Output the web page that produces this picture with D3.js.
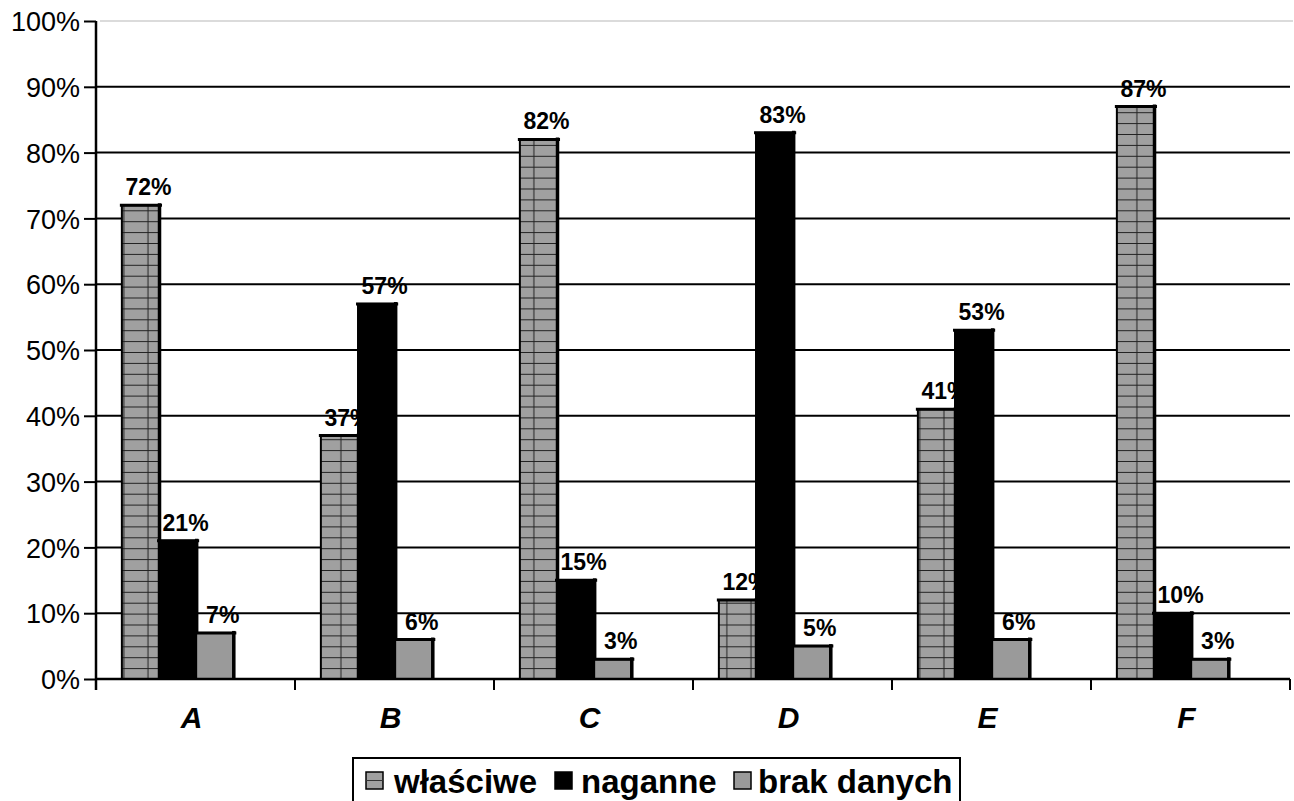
<!DOCTYPE html>
<html><head><meta charset="utf-8">
<script src="https://cdn.jsdelivr.net/npm/d3@7"></script>
<style>body{margin:0;background:#fff}svg{display:block;font-family:"Liberation Sans",Arial,sans-serif}</style>
</head><body>
<script>
const categories = ["A","B","C","D","E","F"];
const seriesNames = ["właściwe","naganne","brak danych"];
const wlasciwe = [72,37,82,12,41,87];
const naganne = [21,57,15,83,53,10];
const brakDanych = [7,6,3,5,6,3];
const yTicks = [0,10,20,30,40,50,60,70,80,90,100];

const values = [wlasciwe, naganne, brakDanych];
const W = 1294, H = 801;
const svg = d3.select("body").append("svg").attr("width", W).attr("height", H);

const defs = svg.append("defs");
const pat = defs.append("pattern").attr("id","grid").attr("patternUnits","userSpaceOnUse")
  .attr("width",24.12).attr("height",10.9).attr("x",148-12).attr("y",679);
pat.append("rect").attr("width",24.12).attr("height",10.9).attr("fill","#a0a0a0");
pat.append("line").attr("x1",12).attr("x2",12).attr("y1",0).attr("y2",10.9).attr("stroke","#222").attr("stroke-width",1);
pat.append("line").attr("x1",0).attr("x2",24.12).attr("y1",0.5).attr("y2",0.5).attr("stroke","#222").attr("stroke-width",1);

const fills = ["url(#grid)", "#000", "#9a9a9a"];

const x0 = d3.scaleBand().domain(categories).range([96, 1290]);
const bw = x0.bandwidth();
const x1 = d3.scaleBand().domain(seriesNames).range([0.13*bw, 0.69*bw]);
const y = d3.scaleLinear().domain([0,100]).range([679, 21]);

// gridlines
svg.append("g").selectAll("line").data(yTicks.filter(t=>t>0 && t<100)).join("line")
  .attr("x1",96).attr("x2",1290).attr("y1",d=>y(d)).attr("y2",d=>y(d))
  .attr("stroke","#000").attr("stroke-width",2);
svg.append("line").attr("x1",100).attr("x2",1293).attr("y1",y(100)).attr("y2",y(100))
  .attr("stroke","#cfcfcf").attr("stroke-width",1.5);

// y axis
const yAxis = d3.axisLeft(y).tickValues(yTicks).tickFormat(d=>d+"%").tickSize(12).tickPadding(4);
const gy = svg.append("g").attr("transform","translate(96,0)").call(yAxis);
gy.attr("font-size",null).attr("font-family",null);
gy.select(".domain").attr("stroke","#000").attr("stroke-width",2.5).attr("d","M0,21V690");
gy.selectAll(".tick line").attr("stroke","#000").attr("stroke-width",2);
gy.selectAll(".tick text").style("font-size","27px").attr("fill","#000").attr("dy","0.36em");

// bars
categories.forEach((c,ci)=>{
  seriesNames.forEach((s,si)=>{
    const v = values[si][ci];
    const bx = x0(c)+x1(s), w = x1.bandwidth(), top = y(v);
    const g = svg.append("g");
    g.append("rect").attr("x",bx).attr("y",top).attr("width",w).attr("height",y(0)-top)
      .attr("fill",fills[si]).attr("stroke","#000").attr("stroke-width",2);
    g.append("line").attr("x1",bx-2).attr("x2",bx+w+3).attr("y1",top).attr("y2",top)
      .attr("stroke","#000").attr("stroke-width",3);
    g.append("line").attr("x1",bx+w+0.5).attr("x2",bx+w+0.5).attr("y1",top-2).attr("y2",y(0))
      .attr("stroke","#000").attr("stroke-width",3.5);
    g.append("text").attr("x",bx+w/2+8).attr("y",top-10).attr("text-anchor","middle")
      .style("font-size","23px").attr("font-weight","bold").text(v+"%");
  });
});

// x axis
svg.append("line").attr("x1",96).attr("x2",1290).attr("y1",679).attr("y2",679).attr("stroke","#000").attr("stroke-width",2.5);
const bounds = categories.map(c=>x0(c)).concat([1290]);
svg.append("g").selectAll("line").data(bounds).join("line")
  .attr("x1",d=>d).attr("x2",d=>d).attr("y1",679).attr("y2",690).attr("stroke","#000").attr("stroke-width",2);
svg.append("g").selectAll("text").data(categories).join("text")
  .attr("x",d=>x0(d)+bw/2-4).attr("y",728).attr("text-anchor","middle")
  .style("font-size","30px").attr("font-weight","bold").attr("font-style","italic").text(d=>d);

// legend
const lg = svg.append("g");
lg.append("rect").attr("x",353).attr("y",758).attr("width",607).attr("height",46)
  .attr("fill","#fff").attr("stroke","#000").attr("stroke-width",2);
const legX = [366, 555, 734];
const legT = [394, 581, 758];
seriesNames.forEach((s,i)=>{
  lg.append("rect").attr("x",legX[i]).attr("y",772).attr("width",17).attr("height",17)
    .attr("fill", i===0 ? "#a0a0a0" : fills[i]).attr("stroke","#000").attr("stroke-width",1.5);
  if(i===0) lg.append("line").attr("x1",legX[i]).attr("x2",legX[i]+17).attr("y1",780.5).attr("y2",780.5).attr("stroke","#333").attr("stroke-width",1);
  lg.append("text").attr("x",legT[i]).attr("y",793).style("font-size","33px").attr("font-weight","bold").text(s);
});
</script>
</body></html>
